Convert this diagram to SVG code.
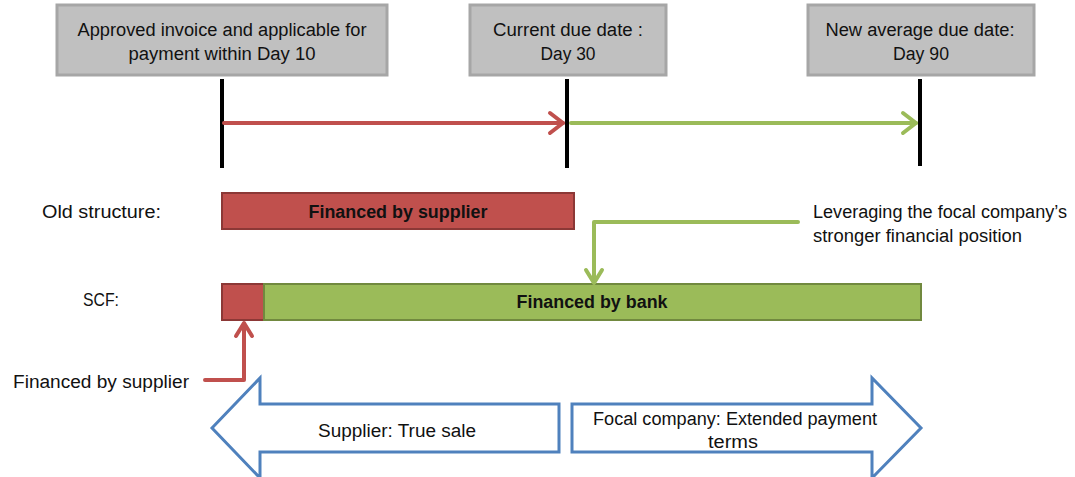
<svg xmlns="http://www.w3.org/2000/svg" width="1075" height="477" viewBox="0 0 1075 477">
<style>
text{font-family:"Liberation Sans",Arial,sans-serif;font-size:18px;fill:#111}
.c{text-anchor:middle}
.b{font-weight:bold}
.box{fill:#c0c0c0;stroke:#a6a6a6;stroke-width:3}
.tick{stroke:#000;stroke-width:4}
.red{stroke:#c0504d;stroke-width:4;fill:none;stroke-linecap:round;stroke-linejoin:round}
.grn{stroke:#9bbb59;stroke-width:4;fill:none;stroke-linecap:round;stroke-linejoin:round}
.rbar{fill:#c0504d;stroke:#8c3836;stroke-width:2}
.gbar{fill:#9bbb59;stroke:#71893f;stroke-width:2}
.blue{fill:#fff;stroke:#4f81bd;stroke-width:3}
</style>
<rect width="1075" height="477" fill="#fff"/>
<g id="day10">
<rect class="box" x="57" y="5" width="330" height="70"/>
<text class="c" x="222" y="36" textLength="289" lengthAdjust="spacingAndGlyphs">Approved invoice and applicable for</text>
<text class="c" x="222" y="60" textLength="187" lengthAdjust="spacingAndGlyphs">payment within Day 10</text>
</g>
<g id="day30">
<rect class="box" x="470" y="5" width="196" height="70"/>
<text class="c" x="568" y="36" textLength="150" lengthAdjust="spacingAndGlyphs">Current due date :</text>
<text class="c" x="568" y="60" textLength="55" lengthAdjust="spacingAndGlyphs">Day 30</text>
</g>
<g id="day90">
<rect class="box" x="808" y="5" width="226" height="70"/>
<text class="c" x="920" y="36" textLength="189" lengthAdjust="spacingAndGlyphs">New average due date:</text>
<text class="c" x="921" y="60" textLength="56" lengthAdjust="spacingAndGlyphs">Day 90</text>
</g>
<g id="ticks">
<line class="tick" x1="222" y1="79" x2="222" y2="168"/>
<line class="tick" x1="567" y1="79" x2="567" y2="168"/>
<line class="tick" x1="920" y1="79" x2="920" y2="166"/>
</g>
<g id="labels">
<text x="42" y="218" textLength="119" lengthAdjust="spacingAndGlyphs">Old structure:</text>
<text x="83" y="306" textLength="36" lengthAdjust="spacingAndGlyphs">SCF:</text>
<text x="13" y="388" textLength="176" lengthAdjust="spacingAndGlyphs">Financed by supplier</text>
<text x="813" y="218" textLength="254" lengthAdjust="spacingAndGlyphs">Leveraging the focal company’s</text>
<text x="813" y="242" textLength="209" lengthAdjust="spacingAndGlyphs">stronger financial position</text>
</g>
<g id="old-bar">
<rect class="rbar" x="222" y="193" width="352" height="36"/>
<text class="c b" x="398" y="218" textLength="179" lengthAdjust="spacingAndGlyphs">Financed by supplier</text>
</g>
<g id="scf-bar">
<rect class="rbar" x="222" y="284" width="42" height="36"/>
<rect class="gbar" x="264" y="284" width="657" height="36"/>
<text class="c b" x="592" y="308" textLength="151" lengthAdjust="spacingAndGlyphs">Financed by bank</text>
</g>
<g id="connectors">
<line class="red" x1="224" y1="123" x2="563" y2="123"/>
<polyline class="red" points="550,113 563,123 550,133"/>
<line class="grn" x1="571" y1="123" x2="916" y2="123"/>
<polyline class="grn" points="903,113 916,123 903,133"/>
<polyline class="grn" points="798,222 594,222 594,282"/>
<polyline class="grn" points="586,270 594,283 602,270"/>
<polyline class="red" points="205,380 244,380 244,324"/>
<polyline class="red" points="236,336 244,323 252,336"/>
</g>
<g id="supplier-arrow">
<polygon class="blue" points="212,428 260,378 260,404 559,404 559,452 260,452 260,478"/>
<text class="c" x="397" y="437" textLength="158" lengthAdjust="spacingAndGlyphs">Supplier: True sale</text>
</g>
<g id="focal-arrow">
<polygon class="blue" points="572,404 872,404 872,378 921,428 872,478 872,452 572,452"/>
<text class="c" x="735" y="425" textLength="284" lengthAdjust="spacingAndGlyphs">Focal company: Extended payment</text>
<text class="c" x="733" y="448" textLength="50" lengthAdjust="spacingAndGlyphs">terms</text>
</g>
</svg>
